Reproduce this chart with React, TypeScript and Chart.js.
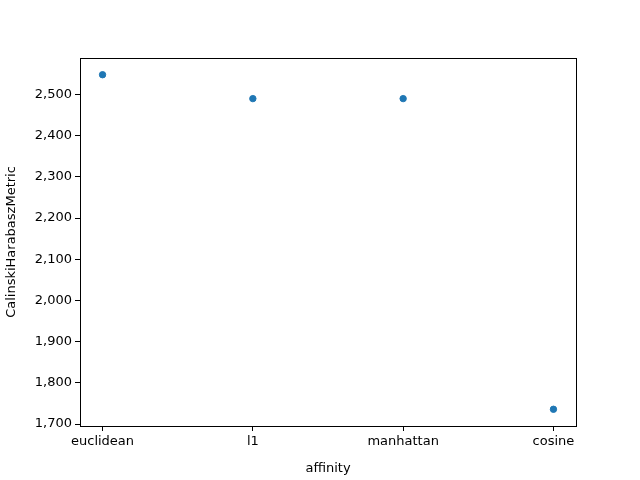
import { useEffect, useRef } from "react";
import Chart from "chart.js/auto";

const categories = ["euclidean", "l1", "manhattan", "cosine"];
const scores = [2548, 2490, 2490, 1736];

const frame = {
  id: "frame",
  afterDraw(chart: Chart) {
    const { ctx, chartArea: a } = chart;
    ctx.save();
    ctx.strokeStyle = "#000";
    ctx.lineWidth = 1;
    ctx.strokeRect(a.left + 0.5, a.top + 0.5, a.right - a.left, a.bottom - a.top);
    ctx.restore();
  },
};

export default function App() {
  const canvasRef = useRef<HTMLCanvasElement>(null);

  useEffect(() => {
    if (!canvasRef.current) return;
    document.body.style.margin = "0";
    const font = { family: "DejaVu Sans", size: 13 };
    const chart = new Chart(canvasRef.current, {
      type: "scatter",
      data: {
        datasets: [
          {
            data: scores.map((y, i) => ({ x: i, y })),
            backgroundColor: "#1f77b4",
            borderColor: "#1f77b4",
            pointRadius: 3.2,
          },
        ],
      },
      options: {
        responsive: false,
        animation: false,
        layout: { padding: { left: 0, right: 64, top: 58, bottom: 0 } },
        plugins: { legend: { display: false }, tooltip: { enabled: false } },
        scales: {
          x: {
            type: "linear",
            min: -0.15,
            max: 3.15,
            afterBuildTicks: (s: any) => {
              s.ticks = categories.map((_, i) => ({ value: i }));
            },
            afterFit: (s: any) => {
              s.height = 54;
            },
            ticks: {
              color: "#000",
              font,
              callback: (v: any) => categories[v] ?? "",
            },
            grid: { drawOnChartArea: false, tickLength: 5, color: "#000" },
            border: { color: "#000" },
            title: { display: true, text: "affinity", color: "#000", font, padding: { top: 2 } },
          },
          y: {
            min: 1695.4,
            max: 2588.6,
            afterBuildTicks: (s: any) => {
              s.ticks = [1700, 1800, 1900, 2000, 2100, 2200, 2300, 2400, 2500].map((value) => ({ value }));
            },
            afterFit: (s: any) => {
              s.width = 80;
            },
            ticks: { color: "#000", font },
            grid: { drawOnChartArea: false, tickLength: 5, color: "#000" },
            border: { color: "#000" },
            title: { display: true, text: "CalinskiHarabaszMetric", color: "#000", font },
          },
        },
      },
      plugins: [frame],
    });
    return () => chart.destroy();
  }, []);

  return <canvas ref={canvasRef} width={640} height={480} />;
}
